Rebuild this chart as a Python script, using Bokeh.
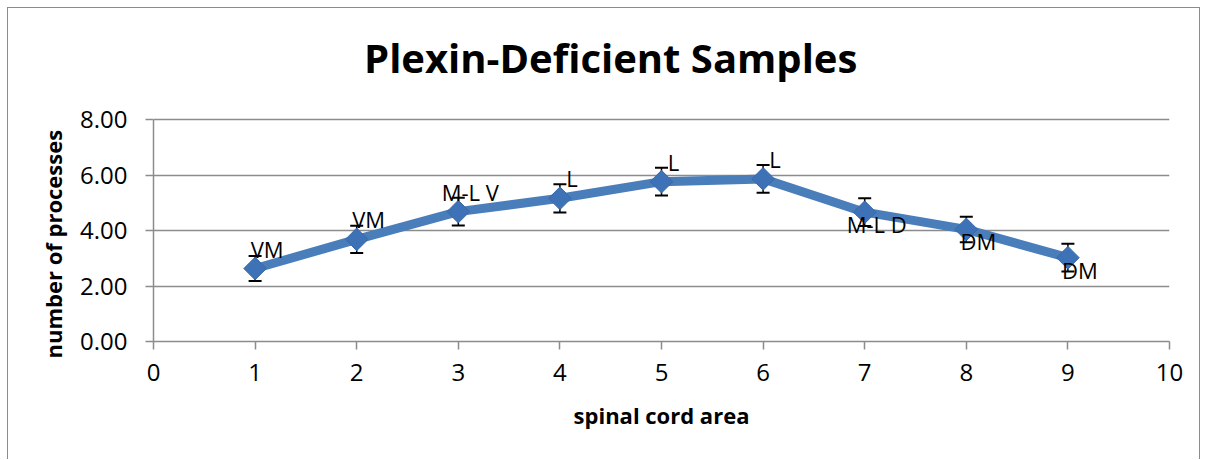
import numpy as np
from bokeh.plotting import figure
from bokeh.models import (Whisker, TeeHead, ColumnDataSource, FixedTicker,
                          NumeralTickFormatter, Range1d, Title)
from bokeh.embed import file_html
from bokeh.resources import INLINE
from bokeh.core.properties import value

# ---- data ----
area = [1, 2, 3, 4, 5, 6, 7, 8, 9]
processes = [2.63, 3.68, 4.68, 5.16, 5.76, 5.86, 4.66, 4.04, 3.02]
errors = [0.45, 0.49, 0.50, 0.51, 0.50, 0.50, 0.50, 0.46, 0.50]
labels = ["VM", "VM", "M-L V", "L", "L", "L", "M-L D", "DM", "DM"]
y_ticks = [0, 2, 4, 6, 8]
x_ticks = [0, 1, 2, 3, 4, 5, 6, 7, 8, 9, 10]
chart_title = "Plexin-Deficient Samples"
x_title = "spinal cord area"
y_title = "number of processes"

FONT = "Open Sans"
GREY = "#8c8c8c"
BLUE = "#4a7ebb"

# frame extends above the value axis to host the chart title
y_top = y_ticks[-1] * 322 / 222
p = figure(width=1193, height=452, x_range=Range1d(0, 10), y_range=Range1d(0, y_top),
           output_backend="svg", toolbar_location=None,
           min_border_left=145, min_border_right=32, min_border_top=11,
           min_border_bottom=119)
p.styles = {"margin-left": "7px", "margin-top": "7px",
            "border-top": "1px solid #8c8c8c", "border-left": "1px solid #8c8c8c",
            "border-right": "1px solid #8c8c8c"}
p.outline_line_color = None
p.background_fill_color = "white"
p.border_fill_color = "white"

# grid
p.xgrid.visible = False
p.ygrid.ticker = FixedTicker(ticks=y_ticks)
p.ygrid.grid_line_color = GREY
p.ygrid.grid_line_width = 1.5

# axes
for ax in (p.xaxis[0], p.yaxis[0]):
    ax.axis_line_color = GREY
    ax.axis_line_width = 1.5
    ax.major_tick_line_color = GREY
    ax.major_tick_line_width = 1.5
    ax.major_tick_out = 8
    ax.major_tick_in = 0
    ax.minor_tick_line_color = None
    ax.major_label_text_font = FONT
    ax.major_label_text_font_size = "24px"
    ax.major_label_text_color = "black"
    ax.axis_label_text_font = FONT
    ax.axis_label_text_font_style = "bold"
    ax.axis_label_text_font_size = "22px"
    ax.axis_label_text_color = "black"

p.xaxis[0].ticker = FixedTicker(ticks=x_ticks)
p.xaxis[0].major_label_standoff = 14
p.xaxis[0].axis_label = x_title
p.xaxis[0].axis_label_standoff = 16

p.yaxis[0].ticker = FixedTicker(ticks=y_ticks)
p.yaxis[0].bounds = (y_ticks[0], y_ticks[-1])
p.yaxis[0].formatter = NumeralTickFormatter(format="0.00")
p.yaxis[0].major_label_standoff = 18

# y-axis title, aligned with the value axis extent rather than the full frame
p.add_layout(Title(text=y_title, align="left", offset=-17, vertical_align="bottom",
                   standoff=20, text_font=FONT, text_font_style="bold",
                   text_font_size="22px", text_color="black"), "left")

# error bars
src = ColumnDataSource(dict(
    x=area, y=processes,
    upper=[v + e for v, e in zip(processes, errors)],
    lower=[v - e for v, e in zip(processes, errors)],
    label=labels))
w = Whisker(base="x", upper="upper", lower="lower", source=src, dimension="height",
            line_color="black", line_width=1.5,
            upper_head=TeeHead(size=13, line_color="black", line_width=2),
            lower_head=TeeHead(size=13, line_color="black", line_width=2))
p.add_layout(w)

# line + markers
p.line("x", "y", source=src, line_width=9, line_color=BLUE)
p.scatter("x", "y", source=src, marker="square", angle=np.pi / 4, size=16,
          fill_color="#3d72b6", line_color="#3a69a8", line_width=1)

# data labels: first six above, rest below
n_above = 6
above = ColumnDataSource(dict(x=area[:n_above], y=processes[:n_above], t=labels[:n_above]))
below = ColumnDataSource(dict(x=area[n_above:], y=processes[n_above:], t=labels[n_above:]))
p.text("x", "y", text="t", source=above, x_offset=12, y_offset=-20,
       text_align="center", text_baseline="alphabetic",
       text_font=value(FONT), text_font_size="22px", text_color="black")
p.text("x", "y", text="t", source=below, x_offset=12, y_offset=-3,
       text_align="center", text_baseline="top",
       text_font=value(FONT), text_font_size="22px", text_color="black")

# chart title (centred on the chart area, inside the extended frame)
p.text(x=[4.5], y=[10.25], text=[chart_title], text_align="center",
       text_baseline="alphabetic", text_font=value(FONT), text_font_style="bold",
       text_font_size="40px", text_color="black")

open("out.html", "w").write(file_html(p, INLINE))
